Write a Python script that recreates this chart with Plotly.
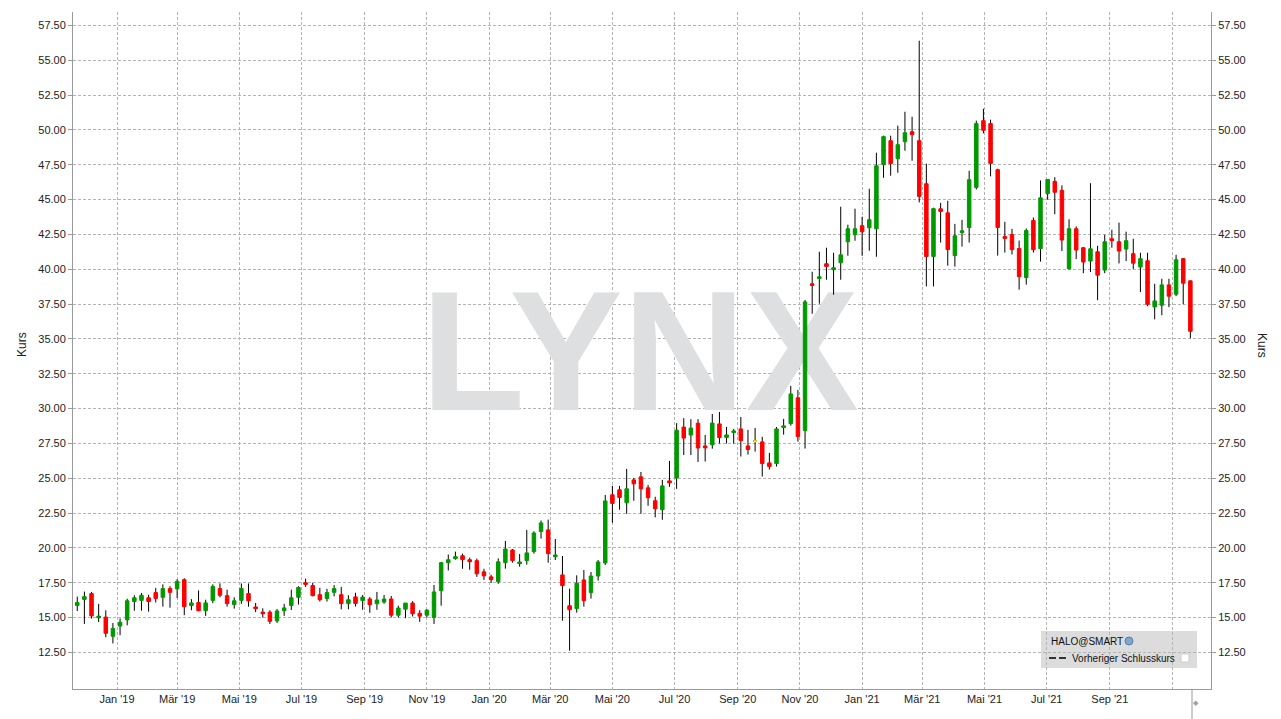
import numpy as np
import pandas as pd
import plotly.graph_objects as go

# ---------------- data (weekly candles, HALO@SMART) ----------------
OPEN = [15.86, 16.30, 16.72, 14.98, 15.03, 13.65, 14.39, 14.83, 16.15, 16.23,
        16.42, 16.79, 16.45, 17.08, 17.06, 17.72, 15.86, 16.08, 15.49, 16.23,
        17.08, 16.57, 15.93, 16.23, 16.72, 15.76, 15.39, 15.39, 14.76, 15.49,
        15.86, 16.45, 17.50, 17.30, 16.64, 16.37, 16.81, 16.64, 16.00, 16.48,
        16.21, 16.33, 15.99, 16.11, 16.33, 15.17, 15.60, 16.04, 15.31, 15.17,
        15.00, 16.93, 18.94, 19.23, 19.44, 19.15, 19.08, 18.28, 17.92, 17.57,
        18.94, 19.85, 18.87, 19.09, 19.73, 21.17, 21.29, 19.37, 18.06, 15.85,
        15.64, 17.70, 16.79, 17.98, 18.92, 23.81, 24.17, 23.24, 24.88, 25.10,
        24.31, 23.38, 22.74, 24.81, 25.02, 28.67, 28.10, 28.95, 27.32, 27.40,
        28.90, 27.92, 28.28, 28.54, 27.32, 27.66, 27.61, 26.10, 26.05, 28.64,
        28.92, 30.77, 28.42, 38.96, 39.34, 40.40, 39.97, 40.47, 41.98, 42.48,
        43.13, 42.98, 42.91, 47.51, 49.23, 47.94, 49.16, 49.88, 49.23, 46.14,
        40.92, 44.34, 44.05, 40.98, 42.64, 43.00, 45.88, 50.67, 50.46, 47.15,
        42.35, 42.49, 41.49, 39.40, 43.50, 41.49, 45.44, 46.31, 45.67, 40.04,
        42.91, 41.55, 40.59, 41.26, 39.94, 42.19, 41.98, 41.45, 41.12, 40.16,
        40.61, 37.30, 37.42, 38.88, 38.21, 40.76, 39.17]
HIGH = [16.50, 16.86, 16.84, 15.98, 15.52, 14.61, 14.93, 16.35, 16.60, 16.76,
        16.64, 17.13, 17.38, 17.25, 17.75, 17.82, 16.32, 16.94, 16.28, 17.38,
        17.45, 17.00, 16.45, 17.45, 17.45, 16.05, 15.66, 15.52, 15.61, 15.98,
        17.00, 17.25, 17.79, 17.50, 17.13, 17.06, 17.33, 17.20, 16.60, 16.78,
        16.62, 16.47, 16.84, 16.62, 16.55, 15.85, 16.04, 16.18, 15.53, 15.60,
        17.34, 18.99, 19.52, 19.73, 19.59, 19.30, 19.23, 18.50, 18.07, 19.25,
        20.50, 19.92, 19.56, 21.29, 21.19, 21.96, 22.03, 20.64, 19.42, 17.07,
        18.03, 18.41, 18.27, 19.13, 23.80, 24.45, 24.45, 25.67, 25.02, 25.45,
        24.52, 23.67, 24.88, 26.24, 28.95, 29.31, 29.24, 29.24, 28.11, 29.61,
        29.76, 28.68, 28.54, 29.40, 28.47, 28.61, 27.97, 26.82, 28.68, 29.26,
        31.63, 31.34, 37.80, 39.82, 41.26, 41.55, 41.19, 44.49, 43.20, 44.35,
        43.77, 45.78, 48.37, 49.59, 49.59, 50.31, 51.31, 50.95, 56.41, 47.58,
        44.42, 44.77, 44.92, 43.26, 43.55, 47.07, 50.67, 51.53, 50.74, 47.22,
        43.41, 42.90, 42.06, 42.93, 43.72, 46.38, 46.45, 46.61, 46.03, 43.59,
        43.08, 41.60, 46.18, 41.69, 42.48, 42.84, 43.35, 42.70, 42.19, 41.19,
        41.19, 38.96, 39.32, 39.32, 41.04, 40.80, 39.20]
LOW = [15.47, 14.54, 14.93, 14.68, 13.58, 13.14, 13.73, 14.44, 15.49, 15.49,
       15.42, 16.08, 15.78, 15.71, 16.40, 15.17, 15.52, 15.45, 15.12, 16.03,
       16.45, 15.78, 15.64, 15.98, 15.78, 15.39, 15.00, 14.54, 14.61, 15.12,
       15.54, 15.93, 17.20, 16.52, 16.15, 16.15, 16.52, 15.59, 15.59, 15.79,
       15.56, 15.34, 15.56, 15.99, 15.00, 15.00, 14.95, 15.07, 14.69, 15.00,
       14.54, 15.85, 18.38, 19.15, 18.50, 18.43, 17.92, 17.70, 17.48, 17.42,
       18.51, 18.94, 18.65, 18.80, 19.59, 20.67, 18.94, 19.13, 14.77, 12.62,
       15.35, 15.78, 16.36, 17.65, 18.77, 21.80, 22.74, 22.45, 23.38, 22.45,
       23.02, 22.19, 22.02, 24.38, 24.24, 26.67, 26.67, 26.17, 26.20, 27.12,
       27.49, 27.49, 27.49, 26.56, 26.70, 26.91, 25.12, 25.62, 25.84, 28.13,
       28.78, 27.63, 27.13, 36.81, 37.53, 39.25, 38.17, 39.25, 40.97, 42.05,
       40.97, 41.33, 40.90, 46.57, 46.72, 46.93, 48.51, 47.79, 44.80, 38.77,
       38.77, 41.92, 40.26, 40.19, 41.63, 41.92, 45.73, 49.76, 46.67, 40.98,
       41.20, 41.06, 38.54, 38.90, 41.20, 40.55, 44.99, 43.95, 41.31, 39.98,
       40.73, 39.72, 39.80, 37.78, 39.72, 41.55, 40.42, 40.59, 40.01, 38.36,
       37.35, 36.41, 36.70, 37.28, 38.07, 37.49, 35.05]
CLOSE = [16.08, 16.50, 15.12, 15.10, 13.87, 14.22, 14.66, 16.20, 16.42, 16.60,
         16.15, 16.37, 17.08, 16.81, 17.60, 15.78, 16.05, 15.49, 16.05, 17.23,
         16.60, 16.00, 16.20, 17.08, 16.20, 15.64, 15.27, 14.73, 15.47, 15.69,
         16.42, 17.16, 17.38, 16.57, 16.28, 16.79, 17.08, 16.00, 16.28, 16.01,
         16.47, 15.92, 16.26, 16.33, 15.17, 15.68, 16.04, 15.27, 15.10, 15.53,
         16.84, 18.94, 19.15, 19.37, 19.15, 19.01, 18.14, 17.99, 17.72, 19.00,
         19.92, 19.09, 18.99, 19.64, 21.07, 21.79, 19.59, 19.49, 17.29, 15.56,
         17.46, 16.21, 17.98, 18.99, 23.37, 23.19, 23.62, 24.24, 24.60, 24.24,
         23.60, 22.81, 24.45, 24.67, 28.45, 27.88, 28.60, 27.17, 27.18, 28.96,
         27.92, 28.11, 28.40, 27.70, 27.06, 27.66, 26.05, 25.84, 28.54, 28.76,
         31.05, 27.99, 37.66, 38.84, 39.46, 40.20, 40.11, 41.04, 42.91, 42.91,
         42.69, 43.56, 47.43, 49.52, 47.58, 48.94, 49.80, 49.66, 45.23, 40.92,
         44.35, 44.15, 41.41, 42.40, 42.76, 46.43, 50.46, 49.98, 47.60, 43.00,
         42.21, 41.41, 39.47, 42.78, 41.41, 45.13, 46.45, 45.53, 42.10, 42.91,
         41.38, 40.52, 41.47, 39.58, 41.98, 42.05, 41.31, 42.05, 40.44, 40.76,
         37.49, 37.73, 38.88, 38.07, 40.68, 39.00, 35.55]

DATES = pd.date_range("2018-11-23", periods=len(OPEN), freq="7D")

X_TICK_DATES = ["2019-01-01", "2019-03-01", "2019-05-01", "2019-07-01", "2019-09-01",
                "2019-11-01", "2020-01-01", "2020-03-01", "2020-05-01", "2020-07-01",
                "2020-09-01", "2020-11-01", "2021-01-01", "2021-03-01", "2021-05-01",
                "2021-07-01", "2021-09-01", "2021-11-01"]
X_TICK_LABELS = ["Jan '19", "Mär '19", "Mai '19", "Jul '19", "Sep '19", "Nov '19",
                 "Jan '20", "Mär '20", "Mai '20", "Jul '20", "Sep '20", "Nov '20",
                 "Jan '21", "Mär '21", "Mai '21", "Jul '21", "Sep '21", ""]
Y_TICKS = [12.5, 15.0, 17.5, 20.0, 22.5, 25.0, 27.5, 30.0, 32.5, 35.0, 37.5, 40.0,
           42.5, 45.0, 47.5, 50.0, 52.5, 55.0, 57.5]
Y_TICK_LABELS = [f"{v:.2f}" for v in Y_TICKS]

# ---------------- styling ----------------
W, H = 1281, 719
ML, MR, MT, MB = 73, 70, 12, 30
PW, PH = W - ML - MR, H - MT - MB
GREEN, RED, YELLOW = "#009a00", "#ff0000", "#ffff00"
GRID, AXIS = "#b4b4b4", "#9a9a9a"
FONT = "Liberation Sans, Arial, sans-serif"


def px(xp):
    return (xp - ML) / PW


def py(yp):
    return (H - MB - yp) / PH


o, h, l, c = map(np.array, (OPEN, HIGH, LOW, CLOSE))
mid = (o + c) / 2
body = o != c
doji = o == c

fig = go.Figure()

# watermark (base subplot, drawn beneath candles)
fig.add_trace(go.Scatter(
    x=["2020-05-28"], y=[32.95], mode="text", text=["LYNX"],
    textfont=dict(family="Liberation Sans, sans-serif",
                  size=170, color="#dedfe0", weight="bold"),
    hoverinfo="skip", showlegend=False, xaxis="x", yaxis="y"))

# wicks (black)
blk = dict(line=dict(color="#000000", width=1), fillcolor="#000000")
fig.add_trace(go.Candlestick(
    x=DATES, open=mid, high=h, low=l, close=mid, increasing=blk, decreasing=blk,
    whiskerwidth=0, hoverinfo="skip", showlegend=False, xaxis="x", yaxis="y2"))

# bodies
fig.add_trace(go.Candlestick(
    x=DATES[body], open=o[body], close=c[body],
    high=np.maximum(o, c)[body], low=np.minimum(o, c)[body],
    increasing=dict(line=dict(color=GREEN, width=1), fillcolor=GREEN),
    decreasing=dict(line=dict(color=RED, width=1), fillcolor=RED),
    whiskerwidth=0, showlegend=False, xaxis="x", yaxis="y2"))

# unchanged week (yellow)
yel = dict(line=dict(color=YELLOW, width=2), fillcolor=YELLOW)
fig.add_trace(go.Candlestick(
    x=DATES[doji], open=o[doji], close=c[doji], high=o[doji], low=o[doji],
    increasing=yel, decreasing=yel, whiskerwidth=0, showlegend=False,
    xaxis="x", yaxis="y2"))

yrange = [9.87, 58.47]
tickfont = dict(family=FONT, size=11, color="#222222")

fig.update_layout(
    width=W, height=H,
    margin=dict(l=ML, r=MR, t=MT, b=MB, pad=0),
    paper_bgcolor="white", plot_bgcolor="white",
    showlegend=False,
    xaxis=dict(type="date", range=["2018-11-18 20:00", "2021-12-09 06:00"],
               tickvals=X_TICK_DATES, ticktext=X_TICK_LABELS,
               showgrid=True, gridcolor=GRID, griddash="3px,2px", gridwidth=1,
               showline=True, linecolor=AXIS, linewidth=1, ticks="",
               tickfont=tickfont, zeroline=False,
               rangeslider=dict(visible=False)),
    yaxis=dict(range=yrange, tickvals=Y_TICKS, ticktext=Y_TICK_LABELS,
               showgrid=True, gridcolor=GRID, griddash="3px,2px", gridwidth=1,
               showline=True, linecolor=AXIS, linewidth=1,
               ticks="outside", ticklen=4, tickcolor=AXIS,
               tickfont=tickfont, zeroline=False),
    yaxis2=dict(range=yrange, overlaying="y", side="right",
                tickvals=Y_TICKS, ticktext=Y_TICK_LABELS, showgrid=False,
                showline=True, linecolor=AXIS, linewidth=1,
                ticks="outside", ticklen=4, tickcolor=AXIS,
                tickfont=tickfont, zeroline=False),
)

ann = []
ann.append(dict(text="Kurs", x=px(22), y=py(345), xref="paper", yref="paper",
                xanchor="center", yanchor="middle",
                showarrow=False, textangle=-90, font=dict(family=FONT, size=12, color="#222222")))
ann.append(dict(text="Kurs", x=px(1262), y=py(345), xref="paper", yref="paper",
                xanchor="center", yanchor="middle",
                showarrow=False, textangle=90, font=dict(family=FONT, size=12, color="#222222")))
# legend box texts
ann.append(dict(text="HALO@SMART", x=px(1049), y=py(641), xref="paper", yref="paper",
                xanchor="left", yanchor="middle", showarrow=False,
                font=dict(family=FONT, size=10, color="#111111")))
ann.append(dict(text="Vorheriger Schlusskurs", x=px(1070), y=py(658), xref="paper", yref="paper",
                xanchor="left", yanchor="middle", showarrow=False,
                font=dict(family=FONT, size=10, color="#111111")))
ann.append(dict(text="◆", x=px(1196), y=py(703), xref="paper", yref="paper",
                xanchor="center", yanchor="middle", showarrow=False,
                font=dict(family="DejaVu Sans", size=7, color="#a0a0a0")))
fig.update_layout(annotations=ann)

shapes = []
shapes.append(dict(type="rect", xref="paper", yref="paper", x0=px(1041), x1=px(1197),
                   y0=py(668), y1=py(631), fillcolor="#dcdcdc", line=dict(width=0), layer="below"))
shapes.append(dict(type="line", xref="paper", yref="paper", x0=px(1049), x1=px(1067),
                   y0=py(658), y1=py(658), line=dict(color="#333333", width=2, dash="7px,3px")))
shapes.append(dict(type="circle", xref="paper", yref="paper", x0=px(1125), x1=px(1133),
                   y0=py(645), y1=py(637), fillcolor="#7fa6cc", line=dict(color="#5b7fa8", width=1)))
shapes.append(dict(type="rect", xref="paper", yref="paper", x0=px(1181), x1=px(1189),
                   y0=py(662), y1=py(654), fillcolor="#ffffff", line=dict(color="#cccccc", width=1)))
shapes.append(dict(type="line", xref="paper", yref="paper", x0=px(1192), x1=px(1192),
                   y0=py(690), y1=py(719), line=dict(color="#9a9a9a", width=1)))
fig.update_layout(shapes=shapes)

fig.write_html("out.html", config={"displayModeBar": False},
               post_script="document.body.style.margin='0px';")
